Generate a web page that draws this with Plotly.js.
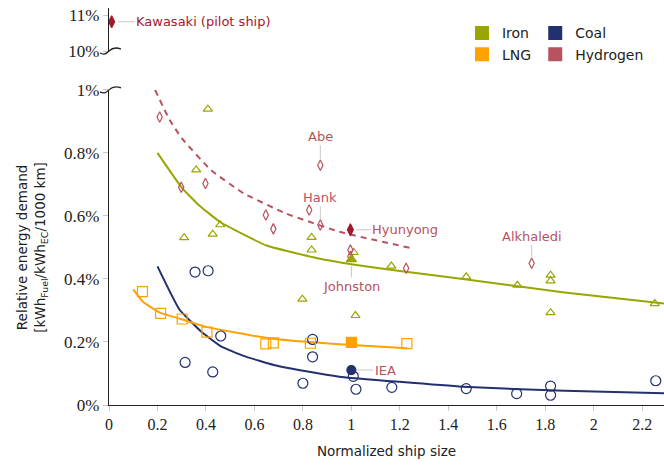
<!DOCTYPE html>
<html lang="en">
<head>
    <meta charset="UTF-8">
    <title>Relative energy demand</title>
    <script src="https://cdn.plot.ly/plotly-3.0.1.min.js"></script>
    <style>
        body { margin: 0; }
        #plot { width: 664px; height: 465px; }
    </style>
</head>

<body>
<div id="plot"></div>
</body>

<script>
    // colours
    let ironColor = "#99a600"
    let coalColor = "#22306e"
    let lngColor = "#ffa200"
    let h2Color = "#b8525e"
    let darkRed = "#a3182c"

    // iron (triangles)
    let ironX = [0.31, 0.36, 0.408, 0.428, 0.459, 0.798, 0.836, 0.836, 1.01, 1.017, 1.165, 1.474, 1.685, 1.822, 1.822, 1.822, 2.252]
    let ironY = [0.531, 0.746, 0.939, 0.542, 0.572, 0.336, 0.532, 0.492, 0.484, 0.284, 0.441, 0.407, 0.380, 0.412, 0.394, 0.293, 0.322]
    let ironFitX = [0.2, 0.3, 0.37, 0.46, 0.65, 0.86, 1.0, 1.2, 1.46, 1.88, 2.29]
    let ironFitY = [0.80, 0.69, 0.635, 0.58, 0.506, 0.466, 0.447, 0.425, 0.40, 0.357, 0.322]
    let johnston = [1.0, 0.462]

    // coal (circles)
    let coalX = [0.314, 0.355, 0.409, 0.428, 0.461, 0.80, 0.84, 0.84, 1.008, 1.019, 1.167, 1.474, 1.682, 1.822, 1.822, 2.256]
    let coalY = [0.135, 0.422, 0.426, 0.105, 0.219, 0.069, 0.208, 0.153, 0.091, 0.050, 0.056, 0.052, 0.036, 0.060, 0.031, 0.077]
    let coalFitX = [0.2, 0.29, 0.38, 0.46, 0.555, 0.68, 0.82, 0.95, 1.46, 1.88, 2.29]
    let coalFitY = [0.44, 0.304, 0.233, 0.187, 0.156, 0.127, 0.106, 0.09, 0.058, 0.045, 0.037]
    let iea = [1.0, 0.111]

    // LNG (squares)
    let lngX = [0.138, 0.213, 0.302, 0.404, 0.647, 0.678, 0.831, 1.229]
    let lngY = [0.360, 0.291, 0.273, 0.231, 0.194, 0.197, 0.196, 0.195]
    let lngFitX = [0.10, 0.14, 0.21, 0.30, 0.40, 0.65, 0.95, 1.23]
    let lngFitY = [0.367, 0.328, 0.293, 0.272, 0.248, 0.213, 0.193, 0.18]
    let lngFilled = [1.0, 0.199]

    // hydrogen (diamonds)
    let h2X = [0.209, 0.298, 0.398, 0.647, 0.678, 0.826, 0.872, 0.872, 0.996, 0.996, 1.226, 1.744]
    let h2Y = [0.914, 0.691, 0.703, 0.603, 0.559, 0.619, 0.571, 0.761, 0.492, 0.471, 0.434, 0.450]
    let h2FitX = [0.19, 0.25, 0.30, 0.42, 0.555, 0.73, 0.95, 1.24]
    let h2FitY = [1.0, 0.905, 0.847, 0.746, 0.672, 0.608, 0.55, 0.499]
    let hyunyong = [0.996, 0.556]
    let kawasaki = [0.011, 10.82]

    let xTicks = [0, 0.2, 0.4, 0.6, 0.8, 1, 1.2, 1.4, 1.6, 1.8, 2, 2.2]
    let yTicks = [0, 0.2, 0.4, 0.6, 0.8, 1]
    let yTickText = ["0%", "0.2%", "0.4%", "0.6%", "0.8%", "1%"]
    let yTicksTop = [10, 11]
    let yTickTextTop = ["10%", "11%"]

    let sans = "DejaVu Sans, sans-serif"
    let serif = "Liberation Serif, serif"

    let mainDomain = [0, 0.778]
    let topDomain = [0.874, 0.98]

    function pts(x, y, symbol, color, size) {
        return {
            x: x, y: y, type: "scatter", mode: "markers", showlegend: false,
            marker: {symbol: symbol, size: size, color: color, line: {color: color, width: 1.2}}
        }
    }

    function fit(x, y, color, dash) {
        return {
            x: x, y: y, type: "scatter", mode: "lines", showlegend: false,
            line: {color: color, width: 2, dash: dash, shape: "spline", smoothing: 0.4}
        }
    }

    function key(name, color, legend) {
        return {
            x: [null], y: [null], type: "scatter", mode: "markers", name: name, legend: legend,
            marker: {symbol: "square", size: 14, color: color}
        }
    }

    let data = [
        fit(ironFitX, ironFitY, ironColor, "solid"),
        fit(coalFitX, coalFitY, coalColor, "solid"),
        fit(lngFitX, lngFitY, lngColor, "solid"),
        fit(h2FitX, h2FitY, h2Color, "6px,5px"),
        pts(ironX, ironY, "triangle-up-open", ironColor, 8),
        pts(coalX, coalY, "circle-open", coalColor, 10),
        pts(lngX, lngY, "square-open", lngColor, 10),
        pts(h2X, h2Y, "diamond-tall-open", h2Color, 7.5),
        pts([johnston[0]], [johnston[1]], "triangle-up", ironColor, 9),
        pts([lngFilled[0]], [lngFilled[1]], "square", lngColor, 10),
        pts([iea[0]], [iea[1]], "circle", coalColor, 9),
        pts([hyunyong[0]], [hyunyong[1]], "diamond-tall", darkRed, 8.5),
        Object.assign(pts([kawasaki[0]], [kawasaki[1]], "diamond-tall", darkRed, 8.5), {yaxis: "y2", cliponaxis: false}),
        key("Iron", ironColor, "legend"),
        key("LNG", lngColor, "legend"),
        key("Coal", coalColor, "legend2"),
        key("Hydrogen", h2Color, "legend2")
    ]

    function label(text, pt, ax, ay, yref, color) {
        return {
            x: pt[0], y: pt[1], xref: "x", yref: yref || "y", text: text,
            showarrow: true, arrowhead: 0, arrowwidth: 1, arrowcolor: "#c8c8c8",
            ax: ax, ay: ay, standoff: 6,
            font: {family: sans, size: 13, color: color || h2Color}
        }
    }

    // wavy break mark on the axis line, pixel offsets turned into paper units
    let plotW = 664 - 109
    let plotH = 465 - 60
    function squiggle(yPaper) {
        let p = (dx, dy) => (dx / plotW).toFixed(5) + "," + (yPaper - dy / plotH).toFixed(5)
        return {
            type: "path", xref: "paper", yref: "paper", layer: "above",
            path: "M" + p(-9, 2) + " C" + p(-5, 4) + " " + p(-3, 3) + " " + p(0, 0) +
                " C" + p(3, -3) + " " + p(7, -4) + " " + p(12, -2),
            line: {color: "#222", width: 1.3}
        }
    }

    let layout = {
        width: 664, height: 465,
        margin: {l: 109, r: 0, t: 0, b: 60},
        paper_bgcolor: "white", plot_bgcolor: "white",
        font: {family: sans, size: 13, color: "#222"},
        xaxis: {
            range: [0, 2.29], tickvals: xTicks, ticktext: xTicks.map(String),
            showgrid: false, zeroline: false, showline: true, linecolor: "#222", linewidth: 1.3,
            ticks: "outside", ticklen: 5, tickcolor: "#c8c8c8",
            tickfont: {family: serif, size: 16, color: "#222"},
            title: {text: "Normalized ship size", font: {family: sans, size: 13.5}, standoff: 14}
        },
        yaxis: {
            domain: mainDomain, range: [0, 1.0], tickvals: yTicks, ticktext: yTickText,
            showgrid: false, zeroline: false, showline: true, linecolor: "#222", linewidth: 1.3,
            ticks: "outside", ticklen: 5, tickcolor: "#c8c8c8",
            tickfont: {family: serif, size: 17, color: "#222"},
            title: {
                text: "Relative energy demand<br>[kWh<sub>Fuel</sub>/kWh<sub>EC</sub>/1000 km]",
                font: {family: sans, size: 13.5}, standoff: 15
            }
        },
        yaxis2: {
            domain: topDomain, range: [10, 11.2], tickvals: yTicksTop,
            ticktext: yTickTextTop, anchor: "x",
            showgrid: false, zeroline: false, showline: true, linecolor: "#222", linewidth: 1.3,
            ticks: "outside", ticklen: 5, tickcolor: "#c8c8c8",
            tickfont: {family: serif, size: 17, color: "#222"}
        },
        legend: {
            x: 0.636, y: 0.957, xanchor: "left", yanchor: "top",
            font: {family: sans, size: 14, color: "#222"}, tracegroupgap: 0,
            bgcolor: "rgba(0,0,0,0)"
        },
        legend2: {
            x: 0.768, y: 0.957, xanchor: "left", yanchor: "top",
            font: {family: sans, size: 14, color: "#222"}, tracegroupgap: 0,
            bgcolor: "rgba(0,0,0,0)"
        },
        annotations: [
            label("Abe", [0.872, 0.761], 0, -29),
            label("Hank", [0.872, 0.571], 0, -28),
            label("Hyunyong", [hyunyong[0], hyunyong[1]], 55, 0),
            label("Johnston", [johnston[0], johnston[1]], 0, 27),
            label("IEA", [iea[0], iea[1]], 34, 0),
            label("Alkhaledi", [1.744, 0.450], 0, -27),
            label("Kawasaki (pilot ship)", kawasaki, 92, 0, "y2", darkRed)
        ],
        shapes: [squiggle(mainDomain[1]), squiggle(topDomain[0])]
    }

    Plotly.newPlot("plot", data, layout, {displayModeBar: false})
</script>
</html>
